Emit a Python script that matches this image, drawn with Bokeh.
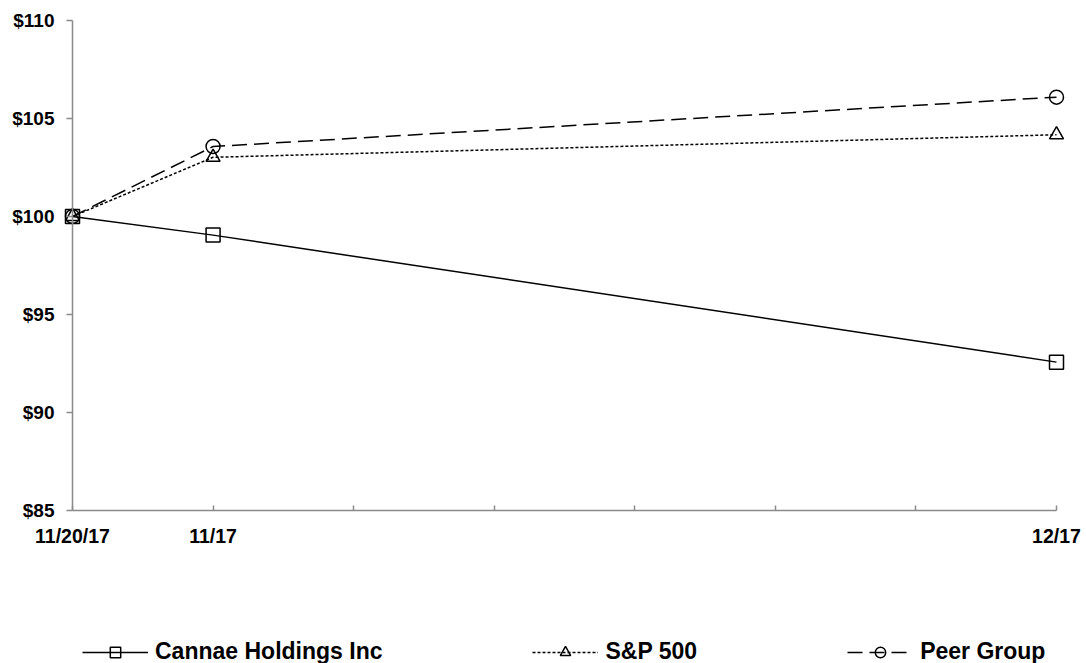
from bokeh.plotting import figure
from bokeh.models import Range1d, FixedTicker, Legend, LegendItem, NumeralTickFormatter
from bokeh.embed import file_html
from bokeh.resources import INLINE

# ---- data ----
tick_labels = ["11/20/17", "11/17", "", "", "", "", "", "12/17"]
periods = ["11/20/17", "11/17", "12/17"]
cannae = [100.0, 99.05, 92.57]
sp500 = [100.0, 103.02, 104.17]
peer = [100.0, 103.57, 106.09]
y_ticks = [85, 90, 95, 100, 105, 110]
series_names = ["Cannae Holdings Inc", "S&P 500", "Peer Group"]

x = [tick_labels.index(p) for p in periods]
n_last = len(tick_labels) - 1

# ---- layout geometry (pixels of the 1086x663 canvas) ----
W, H = 1086, 663
ax_left, ax_right, ax_top, ax_bottom = 72, 1056, 20, 510
px_x = (ax_right - ax_left) / n_last
px_y = (ax_bottom - ax_top) / (max(y_ticks) - min(y_ticks))
x_start = 0 - ax_left / px_x
x_end = n_last + (W - ax_right) / px_x
y_end = max(y_ticks) + ax_top / px_y
y_start = min(y_ticks) - (H - ax_bottom) / px_y

p = figure(width=W, height=H, output_backend="svg", toolbar_location=None,
           x_range=Range1d(x_start, x_end), y_range=Range1d(y_start, y_end),
           min_border_left=0, min_border_right=0, min_border_top=0, min_border_bottom=0)
p.xgrid.visible = False
p.ygrid.visible = False
p.outline_line_color = None
p.background_fill_color = "white"

axis_color = "#8a8a8a"
for ax in (p.xaxis[0], p.yaxis[0]):
    ax.axis_line_color = axis_color
    ax.axis_line_width = 1.5
    ax.major_tick_line_color = axis_color
    ax.major_tick_line_width = 1.5
    ax.minor_tick_line_color = None
    ax.major_label_text_font = "Liberation Sans"
    ax.major_label_text_font_style = "bold"
    ax.major_label_text_color = "black"

p.xaxis.ticker = FixedTicker(ticks=list(range(len(tick_labels))))
p.xaxis.major_label_overrides = {i: t for i, t in enumerate(tick_labels)}
p.xaxis.fixed_location = min(y_ticks)
p.xaxis.bounds = (0, n_last)
p.xaxis.major_tick_in = 5
p.xaxis.major_tick_out = 0
p.xaxis.major_label_standoff = 14
p.xaxis.major_label_text_font_size = "19.5px"

p.yaxis.ticker = FixedTicker(ticks=y_ticks)
p.yaxis.formatter = NumeralTickFormatter(format="$0")
p.yaxis.fixed_location = 0
p.yaxis.bounds = (min(y_ticks), max(y_ticks))
p.yaxis.major_tick_in = 0
p.yaxis.major_tick_out = 6
p.yaxis.major_label_standoff = 12
p.yaxis.major_label_text_font_size = "19px"

items = []
specs = [
    (cannae, "solid", "square"),
    (sp500, "3 2", "triangle"),
    (peer, "15 7", "circle"),
]
for name, (vals, dash, marker) in zip(series_names, specs):
    lr = p.line(x, vals, line_color="black", line_width=1.5, line_dash=dash)
    sr = p.scatter(x, vals, marker=marker, size=14, fill_color=None,
                   line_color="black", line_width=1.5)
    items.append(LegendItem(label=name, renderers=[lr, sr]))

legend = Legend(items=items, orientation="horizontal", location=(82, -2),
                glyph_width=66, glyph_height=26, label_standoff=7, spacing=150,
                padding=0, margin=0, border_line_color=None, background_fill_alpha=0,
                label_text_font="Liberation Sans", label_text_font_style="bold",
                label_text_font_size="23px", label_text_color="black")
p.add_layout(legend)

open("out.html", "w").write(file_html(p, INLINE))
